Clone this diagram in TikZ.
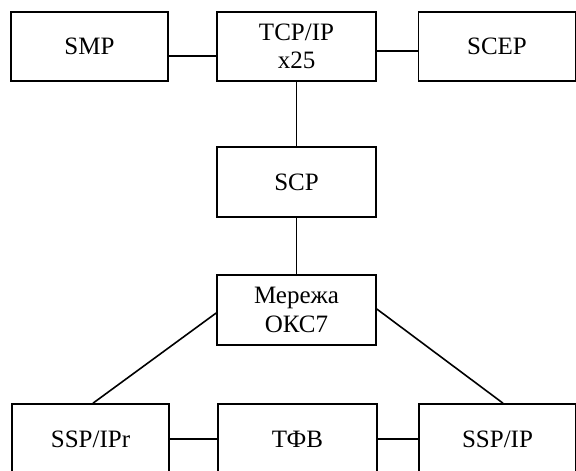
\documentclass[tikz,border=0pt]{standalone}
\usepackage{fontspec}
\setmainfont{Liberation Serif}
\begin{document}
\begin{tikzpicture}[x=1pt,y=-1pt,
  block/.style={draw=black,line width=1.6pt,minimum height=70pt,inner sep=0pt,
    align=center,font=\fontsize{25}{28.5}\selectfont},
  wide/.style={block,minimum width=157pt},
  link/.style={draw=black,line width=1.6pt}]
\useasboundingbox (0,0) rectangle (576,471);
\begin{scope}
\clip (0,0) rectangle (576,471);
% top row
\node[wide,minimum height=69pt] (smp)  at (89.5,46.5)  {SMP};
\node[wide,minimum width=159pt,minimum height=69pt] (tcp) at (296.5,46.5) {TCP/IP\\x25};
\node[wide,minimum height=69pt] (scep) at (497,46.5)   {SCEP};
% central column
\node[wide,minimum width=159pt] (scp) at (296.5,182) {SCP};
\node[wide,minimum width=159pt] (oks) at (296.5,310) {Мережа\\ОКС7};
% bottom row
\node[wide] (sspr) at (90.5,439)  {SSP/IPr};
\node[wide,minimum width=159pt] (tfv)  at (297.5,439) {ТФВ};
\node[wide] (ssp)  at (497.5,439) {SSP/IP};
% connectors (canvas shifts point upwards, hence the signs)
\draw[link] ([yshift=-9.5]smp.east) -- ([yshift=-9.5]tcp.west);
\draw[link] ([yshift=-4.5]tcp.east) -- ([yshift=-4.5]scep.west);
\draw[link] (tcp.south) -- (scp.north);
\draw[link] (scp.south) -- (oks.north);
\draw[link] ([yshift=-3]oks.west) -- ([xshift=2.5]sspr.north);
\draw[link] ([yshift=1]oks.east) -- ([xshift=5.5]ssp.north);
\draw[link] (sspr.east) -- (tfv.west);
\draw[link] (tfv.east) -- (ssp.west);
\end{scope}
\end{tikzpicture}
\end{document}
